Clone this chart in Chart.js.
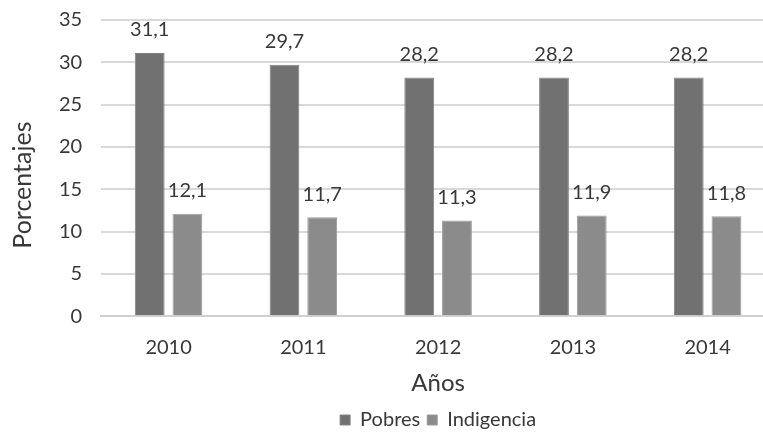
<!DOCTYPE html>
<html><head><meta charset="utf-8">
<script src="https://cdn.jsdelivr.net/npm/chart.js@4"></script>
<style>
html,body{margin:0;padding:0;background:#fff;overflow:hidden;}
#wrap{width:775px;height:440px;position:relative;}
</style></head>
<body>
<div id="wrap"><canvas id="c"></canvas></div>
<script>
const categories = ["2010","2011","2012","2013","2014"];
const pobres = [31.1, 29.7, 28.2, 28.2, 28.2];
const indigencia = [12.1, 11.7, 11.3, 11.9, 11.8];
const yTicks = [0,5,10,15,20,25,30,35];
const yTitle = 'Porcentajes';
const xTitle = 'Años';

const FONT = "Lato, 'Open Sans', sans-serif";
const TXT = '#383838';
const labelPlugin = {
  id: 'valLabels',
  afterDatasetsDraw(chart) {
    const ctx = chart.ctx;
    ctx.save();
    ctx.font = "20px " + FONT;
    ctx.fillStyle = TXT;
    ctx.textAlign = "center";
    ctx.textBaseline = "middle";
    chart.data.datasets.forEach((ds, i) => {
      const meta = chart.getDatasetMeta(i);
      meta.data.forEach((el, j) => {
        const v = ds.data[j];
        ctx.fillText(v.toFixed(1).replace('.', ','), el.x, el.y - 23);
      });
    });
    // y axis title, placed like the reference (slightly below the axis centre)
    const ca = chart.chartArea;
    ctx.font = "25px " + FONT;
    ctx.translate(23, (ca.top + ca.bottom) / 2 + 17);
    ctx.rotate(-Math.PI / 2);
    ctx.fillText(yTitle, 0, 0);
    ctx.restore();
  }
};

new Chart(document.getElementById('c'), {
  type: 'bar',
  data: {
    labels: categories,
    datasets: [
      { label: 'Pobres', data: pobres, backgroundColor: '#717171', borderColor: '#838383', borderWidth: 1,
        categoryPercentage: 0.56, barPercentage: 0.79 },
      { label: 'Indigencia', data: indigencia, backgroundColor: '#8b8b8b', borderColor: '#9a9a9a', borderWidth: 1,
        categoryPercentage: 0.56, barPercentage: 0.79 }
    ]
  },
  options: {
    responsive: true,
    maintainAspectRatio: false,
    animation: false,
    layout: { padding: { top: 0, right: 0, left: 51, bottom: 0 } },
    plugins: {
      legend: {
        position: 'bottom',
        fullSize: false,
        labels: { boxWidth: 10, boxHeight: 10, padding: 7, color: TXT, font: { family: FONT, size: 20 } }
      },
      tooltip: { enabled: false }
    },
    scales: {
      x: {
        grid: { display: false },
        border: { display: true, color: '#d0d0d0', width: 2 },
        ticks: { color: TXT, font: { family: FONT, size: 20 }, padding: 11 },
        title: { display: true, text: xTitle, color: TXT, font: { family: FONT, size: 24 }, padding: { top: -1, bottom: 5 } }
      },
      y: {
        min: 0, max: 35,
        afterBuildTicks(axis) { axis.ticks = yTicks.map(v => ({ value: v })); },
        grid: { color: '#d9d9d9', lineWidth: 2, drawTicks: true, tickLength: 11, tickColor: 'rgba(0,0,0,0)' },
        border: { display: false },
        ticks: { color: TXT, font: { family: FONT, size: 20 }, padding: 8 },
        title: { display: false }
      }
    }
  },
  plugins: [labelPlugin]
});
</script>
</body></html>
